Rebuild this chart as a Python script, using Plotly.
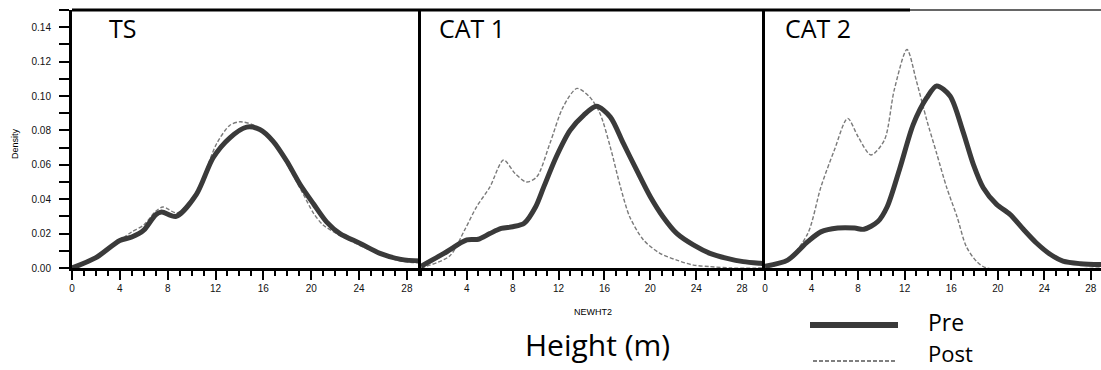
import plotly.graph_objects as go

# ---------------- data ----------------
panel_titles = ["TS", "CAT 1", "CAT 2"]

ts_pre_x = [0, 2, 4, 5, 6, 7, 7.5, 8.7, 10.4, 11.8, 13.2, 14.6, 15.7, 16.8, 17.95, 19.06,
            20.2, 21.3, 22.4, 24.1, 25.75, 27.5, 29.2]
ts_pre_y = [0.000, 0.006, 0.016, 0.018, 0.022, 0.031, 0.0325, 0.030, 0.0428, 0.0641, 0.0757,
            0.0819, 0.0805, 0.0738, 0.0622, 0.0487, 0.0372, 0.0267, 0.0200, 0.0143, 0.0085,
            0.005, 0.004]
ts_post_x = [0, 2, 4, 5, 6, 7, 7.6, 8.8, 10.4, 12.1, 13.2, 14.05, 15.2, 16.8, 18, 19.3, 20.2,
             21.0, 22.4, 24.1, 25.75, 27.5, 29.2]
ts_post_y = [0.000, 0.006, 0.016, 0.021, 0.025, 0.033, 0.0355, 0.032, 0.044, 0.0724, 0.083,
             0.085, 0.083, 0.0735, 0.060, 0.0434, 0.0318, 0.025, 0.019, 0.013, 0.008, 0.004,
             0.003]

cat1_pre_x = [0, 2, 4, 5, 6, 7, 8, 9, 10, 10.7, 11.8, 13.0, 14.2, 15.3, 16.5, 17.65, 18.8,
              20.0, 21.1, 22.3, 23.75, 25.2, 26.7, 28.1, 29.6, 30]
cat1_pre_y = [0.001, 0.0085, 0.0163, 0.0167, 0.020, 0.023, 0.024, 0.026, 0.0356, 0.047, 0.0647,
              0.080, 0.0889, 0.094, 0.0879, 0.0724, 0.057, 0.0414, 0.0298, 0.0201, 0.0134,
              0.0085, 0.0056, 0.0037, 0.0027, 0.0025]
cat1_post_x = [0, 2.5, 3.8, 4.85, 6.0, 7.2, 8.2, 9.2, 10.1, 11.25, 12.4, 13.6, 14.7, 15.6, 16.5,
               17.4, 18.2, 19.4, 20.8, 22.3, 23.75, 25.2, 27, 30]
cat1_post_y = [0.0, 0.007, 0.022, 0.0356, 0.047, 0.0628, 0.055, 0.050, 0.053, 0.0726, 0.0937,
               0.1044, 0.0995, 0.090, 0.0705, 0.047, 0.0298, 0.0163, 0.0087, 0.0046, 0.0017,
               0.0008, 0.0, 0.0]

cat2_pre_x = [0, 1.95, 3.67, 4.8, 6.25, 7.7, 8.5, 9.7, 10.5, 11.6, 12.74, 13.9, 14.75, 15.9,
              17.0, 17.9, 18.75, 19.9, 21.05, 22.2, 23.3, 24.5, 25.6, 27.1, 28.9]
cat2_pre_y = [0.001, 0.0046, 0.0153, 0.021, 0.0232, 0.0232, 0.0225, 0.027, 0.0356, 0.0583,
              0.0835, 0.099, 0.1058, 0.100, 0.0796, 0.0603, 0.0467, 0.037, 0.0312, 0.0225,
              0.0147, 0.008, 0.004, 0.0025, 0.002]
cat2_post_x = [0, 1.95, 3.67, 4.8, 5.96, 7.1, 8.0, 9.1, 10.26, 11.1, 12.2, 13.0, 13.9, 14.75,
               15.6, 16.5, 17.3, 18.2, 19.05, 28.9]
cat2_post_y = [0.0, 0.0046, 0.020, 0.047, 0.0686, 0.087, 0.0763, 0.0657, 0.0744, 0.1034, 0.127,
               0.109, 0.086, 0.0666, 0.047, 0.0298, 0.0124, 0.0037, 0.0, 0.0]

x_ticks_major = [0, 4, 8, 12, 16, 20, 24, 28]
x_ticks_cat1 = [4, 8, 12, 16, 20, 24, 28]
y_ticks = [0.00, 0.02, 0.04, 0.06, 0.08, 0.10, 0.12, 0.14]

series_names = ["Pre", "Post"]
axis_title_x = "NEWHT2"
axis_title_y = "Density"
big_x_title = "Height (m)"

# ---------------- figure ----------------
W, H = 1101, 370
ML, MR, MT, MB = 72, 0, 10, 102
PW, PH = W - ML - MR, H - MT - MB


def px_x(p):
    return (p - ML) / PW


def px_y(p):
    return (H - MB - p) / PH


domains = [[0, px_x(421)], [px_x(421), px_x(765)], [px_x(765), 1]]
xranges = [[0, 29.18], [0, 30.0], [0, 28.87]]

PRE_COLOR = "#3a3a3a"
POST_COLOR = "#7a7a7a"

fig = go.Figure()
panels = [
    (ts_pre_x, ts_pre_y, ts_post_x, ts_post_y),
    (cat1_pre_x, cat1_pre_y, cat1_post_x, cat1_post_y),
    (cat2_pre_x, cat2_pre_y, cat2_post_x, cat2_post_y),
]
for i, (px_, py_, qx, qy) in enumerate(panels):
    xa = "x" if i == 0 else f"x{i+1}"
    ya = "y" if i == 0 else f"y{i+1}"
    fig.add_trace(go.Scatter(x=qx, y=qy, mode="lines", xaxis=xa, yaxis=ya,
                             name=series_names[1], showlegend=False,
                             line=dict(color=POST_COLOR, width=1.4, dash="4px,2px",
                                       shape="spline", smoothing=0.8)))
    fig.add_trace(go.Scatter(x=px_, y=py_, mode="lines", xaxis=xa, yaxis=ya,
                             name=series_names[0], showlegend=False,
                             line=dict(color=PRE_COLOR, width=5,
                                       shape="spline", smoothing=0.8)))

tickfont = dict(family="Liberation Sans, Arial", size=10, color="#111")
layout = dict(
    width=W, height=H, margin=dict(l=ML, r=MR, t=MT, b=MB),
    paper_bgcolor="white", plot_bgcolor="white", showlegend=False,
)
for i in range(3):
    sfx = "" if i == 0 else str(i + 1)
    layout[f"xaxis{sfx}"] = dict(
        domain=domains[i], range=xranges[i], anchor="y" + sfx,
        showgrid=False, zeroline=False, showline=True, linecolor="black", linewidth=3,
        ticks="outside", ticklen=9, tickwidth=2, tickcolor="black",
        tickvals=x_ticks_cat1 if i == 1 else x_ticks_major,
        tickfont=tickfont,
        minor=dict(dtick=1, tick0=0, ticks="outside", ticklen=5, tickwidth=2,
                   tickcolor="black", showgrid=False),
    )
    ya = dict(
        domain=[0, 1], range=[0, 0.15], anchor="x" + sfx,
        showgrid=False, zeroline=False, showline=True, linecolor="black", linewidth=3,
    )
    if i == 0:
        ya.update(ticks="outside", ticklen=10, tickwidth=2, tickcolor="black",
                  tickvals=y_ticks, tickformat=".2f", tickfont=tickfont,
                  ticklabelstandoff=6,
                  minor=dict(dtick=0.01, tick0=0, ticks="outside", ticklen=10,
                             tickwidth=2, tickcolor="black", showgrid=False))
    else:
        ya.update(showticklabels=False, ticks="")
    layout[f"yaxis{sfx}"] = ya

fig.update_layout(**layout)

# frame: top border (thick then thin); dividers come from the y-axis lines
fig.add_shape(type="line", xref="paper", yref="paper", x0=0, x1=px_x(910), y0=1, y1=1,
              line=dict(color="black", width=3))
fig.add_shape(type="line", xref="paper", yref="paper", x0=px_x(910), x1=1, y0=1, y1=1,
              line=dict(color="#333", width=1.6))

# panel titles
title_left = [107, 437, 783]
for t, xl in zip(panel_titles, title_left):
    fig.add_annotation(text=t, xref="paper", yref="paper", x=px_x(xl), y=px_y(28),
                       xanchor="left", yanchor="middle", showarrow=False,
                       font=dict(family="Open Sans", size=25, color="black"))

# axis titles
fig.add_annotation(text=axis_title_y, xref="paper", yref="paper", x=px_x(15), y=px_y(144),
                   textangle=-90, showarrow=False, xanchor="center", yanchor="middle",
                   font=dict(family="Liberation Sans Narrow, Liberation Sans", size=9, color="black"))
fig.add_annotation(text=axis_title_x, xref="paper", yref="paper", x=px_x(593), y=px_y(312),
                   showarrow=False, xanchor="center", yanchor="middle",
                   font=dict(family="Liberation Sans Narrow, Liberation Sans", size=9, color="black"))
fig.add_annotation(text=big_x_title, xref="paper", yref="paper", x=px_x(597), y=px_y(344),
                   showarrow=False, xanchor="center", yanchor="middle",
                   font=dict(family="Open Sans", size=30, color="black"))

# legend (drawn)
fig.add_shape(type="line", xref="paper", yref="paper", x0=px_x(810), x1=px_x(898),
              y0=px_y(325), y1=px_y(325), line=dict(color=PRE_COLOR, width=6))
fig.add_shape(type="line", xref="paper", yref="paper", x0=px_x(813), x1=px_x(897),
              y0=px_y(361), y1=px_y(361), line=dict(color="#555", width=1.5, dash="4px,2px"))
fig.add_annotation(text=series_names[0], xref="paper", yref="paper", x=px_x(926), y=px_y(322),
                   xanchor="left", yanchor="middle", showarrow=False,
                   font=dict(family="Open Sans", size=23, color="black"))
fig.add_annotation(text=series_names[1], xref="paper", yref="paper", x=px_x(926), y=px_y(353),
                   xanchor="left", yanchor="middle", showarrow=False,
                   font=dict(family="Open Sans", size=22, color="black"))

fig.write_html("out.html", config={"displayModeBar": False},
               post_script="document.body.style.margin='0';document.body.style.overflow='hidden';")
